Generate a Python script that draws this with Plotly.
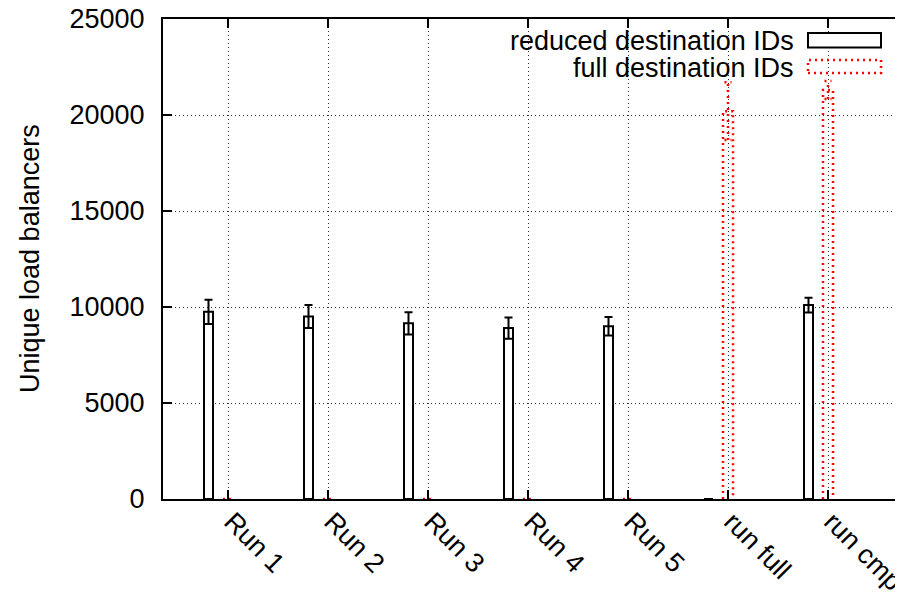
import plotly.graph_objects as go

categories = ["Run 1", "Run 2", "Run 3", "Run 4", "Run 5", "run full", "run cmp"]
reduced_vals = [9750, 9500, 9150, 8900, 9000, 0, 10100]
reduced_err = [630, 600, 580, 550, 480, 0, 380]
full_vals = [0, 0, 0, 0, 0, 20200, 21300]
full_err = [0, 0, 0, 0, 0, 1500, 470]
y_ticks = [0, 5000, 10000, 15000, 20000, 25000]
series_names = ["reduced destination IDs", "full destination IDs"]
y_title = "Unique load balancers"

FONT = "Liberation Sans, Arial, Helvetica, sans-serif"
FS = 27
pos = list(range(len(categories)))
W_RED = 0.09
OFF_RED = -0.195
W_FULL = 0.10
CAP = 0.035
RED_DASH = "2px,4px"
GRID_DASH = "1px,3px"

fig = go.Figure()

# reduced destination IDs: white bars with black outline and error bars
fig.add_trace(go.Bar(
    x=[p + OFF_RED for p in pos], y=reduced_vals, width=W_RED,
    marker=dict(color="white", line=dict(color="black", width=2)),
    error_y=dict(type="data", array=reduced_err, color="black", thickness=2, width=4),
    showlegend=False, name=series_names[0],
))

# full destination IDs: red dotted outline bars with dotted error bars
bx, by = [], []
for p, v in zip(pos, full_vals):
    bx += [p - W_FULL / 2, p - W_FULL / 2, p + W_FULL / 2, p + W_FULL / 2, None]
    by += [0, v, v, 0, None]
ex, ey = [], []
for p, v, e in zip(pos, full_vals, full_err):
    if e > 0:
        ex += [p, p, None, p - CAP, p + CAP, None, p - CAP, p + CAP, None]
        ey += [v - e, v + e, None, v + e, v + e, None, v - e, v - e, None]
fig.add_trace(go.Scatter(x=bx, y=by, mode="lines",
                         line=dict(color="red", width=2.5, dash=RED_DASH),
                         showlegend=False, name=series_names[1], hoverinfo="skip"))
fig.add_trace(go.Scatter(x=ex, y=ey, mode="lines",
                         line=dict(color="red", width=2.5, dash=RED_DASH),
                         showlegend=False, hoverinfo="skip"))

# page pixel -> paper coordinate helpers (plot area: x 163..903, y 19..499)
def py(pix):
    return 1 - (pix - 19) / 480

def px(pix):
    return (pix - 163) / 740

# manual gnuplot-style legend (text right-aligned, sample on the right)
fig.add_annotation(xref="paper", yref="paper", x=px(796), y=py(41),
                   text=series_names[0], showarrow=False, xanchor="right", yanchor="middle",
                   font=dict(family=FONT, size=FS, color="black"))
fig.add_annotation(xref="paper", yref="paper", x=px(796), y=py(67.5),
                   text=series_names[1], showarrow=False, xanchor="right", yanchor="middle",
                   font=dict(family=FONT, size=FS, color="black"))
fig.add_shape(type="rect", xref="paper", yref="paper",
              x0=px(808), x1=px(881), y0=py(47.5), y1=py(33),
              line=dict(color="black", width=2), fillcolor="white")
fig.add_shape(type="rect", xref="paper", yref="paper",
              x0=px(808), x1=px(881), y0=py(73), y1=py(60),
              line=dict(color="red", width=2.5, dash=RED_DASH), fillcolor="rgba(0,0,0,0)")

# y axis title
fig.add_annotation(xref="paper", yref="paper", x=px(30), y=py(259),
                   text=y_title, textangle=-90, showarrow=False,
                   xanchor="center", yanchor="middle",
                   font=dict(family=FONT, size=FS, color="black"))

# the page body has an 8px margin, so the figure is offset by (8, 8)
fig.update_layout(
    width=903, height=592,
    margin=dict(l=155, r=8, t=11, b=101, autoexpand=False),
    plot_bgcolor="white", paper_bgcolor="white",
    barmode="overlay",
    font=dict(family=FONT, size=FS, color="black"),
    xaxis=dict(
        range=[-0.65, 6.75], tickmode="array", tickvals=pos, ticktext=categories,
        tickangle=45, ticks="inside", ticklen=9, tickwidth=2, tickcolor="black",
        showline=True, linecolor="black", linewidth=2, mirror="ticks",
        showgrid=True, gridcolor="#333", gridwidth=1, griddash=GRID_DASH,
        zeroline=False, tickfont=dict(family=FONT, size=FS), automargin=False,
        ticklabeloverflow="allow", ticklabelshift=4, ticklabelstandoff=-6,
    ),
    yaxis=dict(
        range=[0, 25000], tickmode="array", tickvals=y_ticks,
        ticktext=[str(t) for t in y_ticks],
        ticks="inside", ticklen=9, tickwidth=2, tickcolor="black",
        showline=True, linecolor="black", linewidth=2, mirror=False,
        showgrid=True, gridcolor="#333", gridwidth=1, griddash=GRID_DASH,
        zeroline=False, tickfont=dict(family=FONT, size=FS),
        ticklabelstandoff=11, automargin=False, ticklabeloverflow="allow",
    ),
)

fig.write_html("out.html")
